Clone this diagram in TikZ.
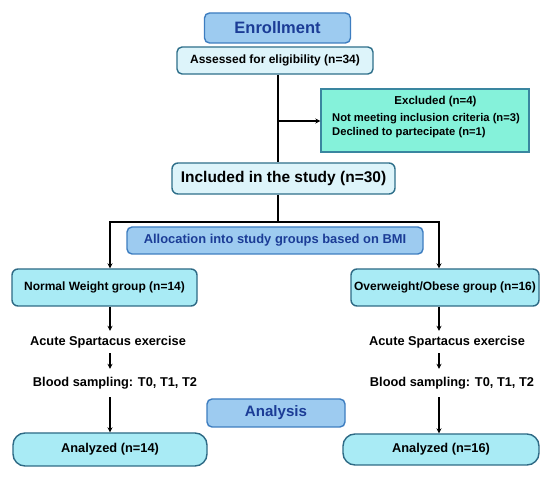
\documentclass[tikz,border=0pt]{standalone}
\usepackage{fontspec}
\setmainfont{Liberation Sans}
\usetikzlibrary{arrows.meta}
\definecolor{enrollFill}{RGB}{157,203,240}
\definecolor{enrollLine}{RGB}{61,125,192}
\definecolor{darkText}{RGB}{27,60,150}
\definecolor{paleFill}{RGB}{221,244,250}
\definecolor{paleLine}{RGB}{46,111,138}
\definecolor{exclFill}{RGB}{133,242,218}
\definecolor{exclLine}{RGB}{58,134,160}
\definecolor{groupFill}{RGB}{169,235,245}
\definecolor{groupLine}{RGB}{46,106,133}
\newcommand{\fsz}[1]{\fontsize{#1}{#1}\selectfont\bfseries}
\tikzset{
  bluebox/.style={draw=enrollLine, fill=enrollFill, line width=1.4pt, rounded corners=5pt,
    text=darkText, inner sep=0pt},
  palebox/.style={draw=paleLine, fill=paleFill, line width=1.4pt, rounded corners=5pt,
    inner sep=0pt},
  groupbox/.style={draw=groupLine, fill=groupFill, line width=1.4pt, rounded corners=6pt,
    inner sep=0pt},
  endbox/.style={groupbox, rounded corners=12pt},
  exclbox/.style={draw=exclLine, fill=exclFill, line width=1.4pt, inner sep=0pt},
  steptext/.style={inner xsep=0pt, text height=9.5pt, text depth=2.5pt, font=\fsz{12.8}},
  conn/.style={line width=1.6pt, black},
  arr/.style={conn, -{Stealth[length=5pt,width=5pt]}},
}
\begin{document}
\begin{tikzpicture}[x=1pt,y=-1pt]
\useasboundingbox (0,0) rectangle (550,478);
\fill[white] (0,0) rectangle (550,478);

\node[bluebox, minimum width=146pt, minimum height=30pt, font=\fsz{16.5}] (enroll) at (277.5,28) {Enrollment};
\node[palebox, minimum width=196pt, minimum height=27pt, font=\fsz{12}] (assess) at (275,60.5) {Assessed for eligibility (n=34)};
\node[exclbox, minimum width=208pt, minimum height=63pt] (excl) at (425,120.5) {};
\node[font=\fsz{11.5}, inner sep=0pt] (exclT) at (435.5,101.5) {Excluded (n=4)};
\node[font=\fsz{11.2}, inner sep=0pt, anchor=west, align=left] (exclL) at (332,126) {Not meeting inclusion criteria (n=3)\\[3pt]Declined to partecipate (n=1)};
\node[palebox, rounded corners=6pt, minimum width=223pt, minimum height=31pt, font=\fsz{15.5}] (incl) at (283.5,178.5) {Included in the study (n=30)};
\node[bluebox, minimum width=296pt, minimum height=27pt, font=\fsz{12.9}] (alloc) at (275,240.5) {Allocation into study groups based on BMI};

\node[groupbox, minimum width=185pt, minimum height=37pt, font=\fsz{12}] (normal) at (104.5,287.5) {Normal Weight group (n=14)};
\node[groupbox, minimum width=188pt, minimum height=37pt, font=\fsz{12}] (over) at (445,287.5) {Overweight/Obese group (n=16)};

\node[steptext, inner ysep=5pt] (acuteL) at (108,342) {Acute Spartacus exercise};
\node[steptext, inner ysep=5pt] (acuteR) at (447,342) {Acute Spartacus exercise};
\node[steptext, inner ysep=8pt] (bloodL) at (115,383) {Blood sampling: T0, T1, T2};
\node[steptext, inner ysep=8pt] (bloodR) at (452,383) {Blood sampling: T0, T1, T2};

\node[bluebox, minimum width=138pt, minimum height=28pt, font=\fsz{15.1}] (analysis) at (276,413) {Analysis};
\node[endbox, minimum width=194pt, minimum height=33pt, font=\fsz{12.8}] (anaL) at (110,449.5) {Analyzed (n=14)};
\node[endbox, minimum width=196pt, minimum height=31pt, font=\fsz{12.8}] (anaR) at (441,449.5) {Analyzed (n=16)};

\coordinate (trunk) at (278,0);
\coordinate (colL) at (110,0);
\coordinate (colR) at (439,0);
\coordinate (split) at (278,222);
\coordinate (exJ) at (278,121);

\draw[conn] (assess.south -| trunk) -- (incl.north -| trunk);
\draw[arr] (exJ) -- (exJ -| excl.west);
\draw[conn] (incl.south -| trunk) -- (split);
\draw[arr] (split) -- (split -| colL) -- (normal.north -| colL);
\draw[arr] (split) -- (split -| colR) -- (over.north -| colR);

\draw[arr] (normal.south -| colL) -- (acuteL.north -| colL);
\draw[arr] (acuteL.south -| colL) -- (bloodL.north -| colL);
\draw[arr] (bloodL.south -| colL) -- (anaL.north -| colL);
\draw[arr] (over.south -| colR) -- (acuteR.north -| colR);
\draw[arr] (acuteR.south -| colR) -- (bloodR.north -| colR);
\draw[arr] (bloodR.south -| colR) -- (anaR.north -| colR);
\end{tikzpicture}
\end{document}
